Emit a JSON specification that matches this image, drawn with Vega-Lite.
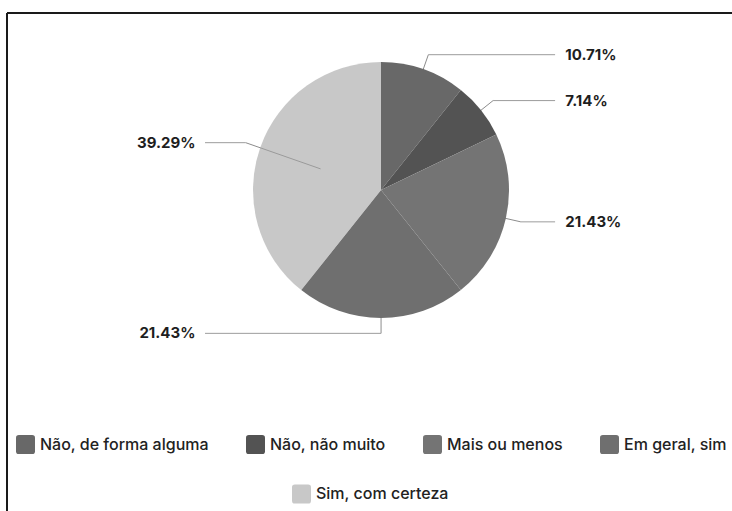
{
  "$schema": "https://vega.github.io/schema/vega-lite/v6.json",
  "width": 725,
  "height": 498,
  "autosize": {"type": "none"},
  "padding": {"left": 7, "top": 13, "right": 0, "bottom": 0},
  "background": "white",
  "config": {"view": {"stroke": null}, "font": "Inter"},
  "data": {
    "values": [
      {"category": "Não, de forma alguma", "value": 10.71},
      {"category": "Não, não muito", "value": 7.14},
      {"category": "Mais ou menos", "value": 21.43},
      {"category": "Em geral, sim", "value": 21.43},
      {"category": "Sim, com certeza", "value": 39.29}
    ]
  },
  "transform": [
    {"window": [{"op": "row_number", "as": "i"}, {"op": "sum", "field": "value", "as": "cum"}]},
    {"joinaggregate": [{"op": "sum", "field": "value", "as": "total"}]},
    {"calculate": "2*PI*(datum.cum - datum.value/2)/datum.total", "as": "mid"},
    {"calculate": "sin(datum.mid)", "as": "s"},
    {"calculate": "cos(datum.mid)", "as": "c"},
    {"calculate": "datum.s > 0.001 ? 1 : -1", "as": "side"},
    {"calculate": "0.5*datum.s", "as": "x0"},
    {"calculate": "0.5*datum.c", "as": "y0"},
    {"calculate": "1.12*datum.s", "as": "x1"},
    {"calculate": "1.12*datum.c", "as": "y1"},
    {"calculate": "datum.side > 0 ? 1.36 : -1.375", "as": "x2"},
    {"calculate": "datum.side > 0 ? 1.44 : -1.45", "as": "xl"},
    {"calculate": "format(datum.value, '.2f') + '%'", "as": "pct"}
  ],
  "resolve": {"scale": {"color": "independent"}, "legend": {"color": "independent"}},
  "layer": [
    {
      "mark": {"type": "rule", "color": "#8c8c8c", "strokeWidth": 1},
      "encoding": {
        "x": {"field": "x0", "type": "quantitative", "scale": {"domain": [-2.922, 2.742], "nice": false, "zero": false}, "axis": null},
        "y": {"field": "y0", "type": "quantitative", "scale": {"domain": [-2.508, 1.383], "nice": false, "zero": false}, "axis": null},
        "x2": {"field": "x1"},
        "y2": {"field": "y1"}
      }
    },
    {
      "mark": {"type": "rule", "color": "#9c9c9c", "strokeWidth": 1},
      "encoding": {
        "x": {"field": "x1", "type": "quantitative", "scale": {"domain": [-2.922, 2.742], "nice": false, "zero": false}, "axis": null},
        "y": {"field": "y1", "type": "quantitative", "scale": {"domain": [-2.508, 1.383], "nice": false, "zero": false}, "axis": null},
        "x2": {"field": "x2"}
      }
    },
    {
      "mark": {"type": "arc", "outerRadius": 128},
      "encoding": {
        "theta": {"field": "value", "type": "quantitative", "stack": true},
        "order": {"field": "i", "type": "quantitative"},
        "x": {"datum": 0, "type": "quantitative", "scale": {"domain": [-2.922, 2.742], "nice": false, "zero": false}, "axis": null},
        "y": {"datum": 0, "type": "quantitative", "scale": {"domain": [-2.508, 1.383], "nice": false, "zero": false}, "axis": null},
        "color": {
          "field": "category",
          "type": "nominal",
          "sort": ["Não, de forma alguma", "Não, não muito", "Mais ou menos", "Em geral, sim", "Sim, com certeza"],
          "scale": {
            "domain": ["Não, de forma alguma", "Não, não muito", "Mais ou menos", "Em geral, sim", "Sim, com certeza"],
            "range": ["#686868", "#535353", "#747474", "#6f6f6f", "rgba(163,163,163,0.6)"]
          },
          "legend": {
            "orient": "none",
            "legendX": 9,
            "legendY": 422,
            "direction": "horizontal",
            "columns": 4,
            "columnPadding": 37,
            "title": null,
            "values": ["Não, de forma alguma", "Não, não muito", "Mais ou menos", "Em geral, sim"],
            "symbolType": "M-1,-0.7 Q-1,-1 -0.7,-1 L0.7,-1 Q1,-1 1,-0.7 L1,0.7 Q1,1 0.7,1 L-0.7,1 Q-1,1 -1,0.7 Z",
            "symbolSize": 361,
            "symbolStrokeWidth": 0,
            "symbolOpacity": 1,
            "labelFont": "Inter",
            "labelFontSize": 16,
            "labelFontWeight": 500,
            "labelColor": "#222222",
            "labelOffset": 5,
            "labelLimit": 300
          }
        }
      }
    },
    {
      "mark": {"type": "arc", "outerRadius": 0},
      "encoding": {
        "theta": {"field": "value", "type": "quantitative", "stack": true},
        "order": {"field": "i", "type": "quantitative"},
        "x": {"datum": 0, "type": "quantitative", "scale": {"domain": [-2.922, 2.742], "nice": false, "zero": false}, "axis": null},
        "y": {"datum": 0, "type": "quantitative", "scale": {"domain": [-2.508, 1.383], "nice": false, "zero": false}, "axis": null},
        "color": {
          "field": "category",
          "type": "nominal",
          "scale": {
            "domain": ["Não, de forma alguma", "Não, não muito", "Mais ou menos", "Em geral, sim", "Sim, com certeza"],
            "range": ["#686868", "#535353", "#747474", "#6f6f6f", "rgba(163,163,163,0.6)"]
          },
          "legend": {
            "orient": "none",
            "legendX": 285,
            "legendY": 471.5,
            "direction": "horizontal",
            "title": null,
            "values": ["Sim, com certeza"],
            "symbolType": "M-1,-0.7 Q-1,-1 -0.7,-1 L0.7,-1 Q1,-1 1,-0.7 L1,0.7 Q1,1 0.7,1 L-0.7,1 Q-1,1 -1,0.7 Z",
            "symbolSize": 361,
            "symbolStrokeWidth": 0,
            "symbolOpacity": 1,
            "labelFont": "Inter",
            "labelFontSize": 16,
            "labelFontWeight": 500,
            "labelColor": "#222222",
            "labelOffset": 5,
            "labelLimit": 300
          }
        }
      }
    },
    {
      "transform": [{"filter": "datum.side > 0"}],
      "mark": {"type": "text", "align": "left", "baseline": "middle", "font": "Inter", "fontSize": 15, "fontWeight": 700, "color": "#1e1e1e"},
      "encoding": {
        "x": {"field": "xl", "type": "quantitative", "scale": {"domain": [-2.922, 2.742], "nice": false, "zero": false}, "axis": null},
        "y": {"field": "y1", "type": "quantitative", "scale": {"domain": [-2.508, 1.383], "nice": false, "zero": false}, "axis": null},
        "text": {"field": "pct"}
      }
    },
    {
      "transform": [{"filter": "datum.side < 0"}],
      "mark": {"type": "text", "align": "right", "baseline": "middle", "font": "Inter", "fontSize": 15, "fontWeight": 700, "color": "#1e1e1e"},
      "encoding": {
        "x": {"field": "xl", "type": "quantitative", "scale": {"domain": [-2.922, 2.742], "nice": false, "zero": false}, "axis": null},
        "y": {"field": "y1", "type": "quantitative", "scale": {"domain": [-2.508, 1.383], "nice": false, "zero": false}, "axis": null},
        "text": {"field": "pct"}
      }
    },
    {
      "mark": {"type": "rule", "color": "#1a1a1a", "strokeWidth": 2},
      "encoding": {
        "x": {"datum": -2.922, "type": "quantitative", "scale": {"domain": [-2.922, 2.742], "nice": false, "zero": false}, "axis": null}
      }
    },
    {
      "mark": {"type": "rule", "color": "#1a1a1a", "strokeWidth": 2},
      "encoding": {
        "y": {"datum": 1.383, "type": "quantitative", "scale": {"domain": [-2.508, 1.383], "nice": false, "zero": false}, "axis": null}
      }
    }
  ]
}
